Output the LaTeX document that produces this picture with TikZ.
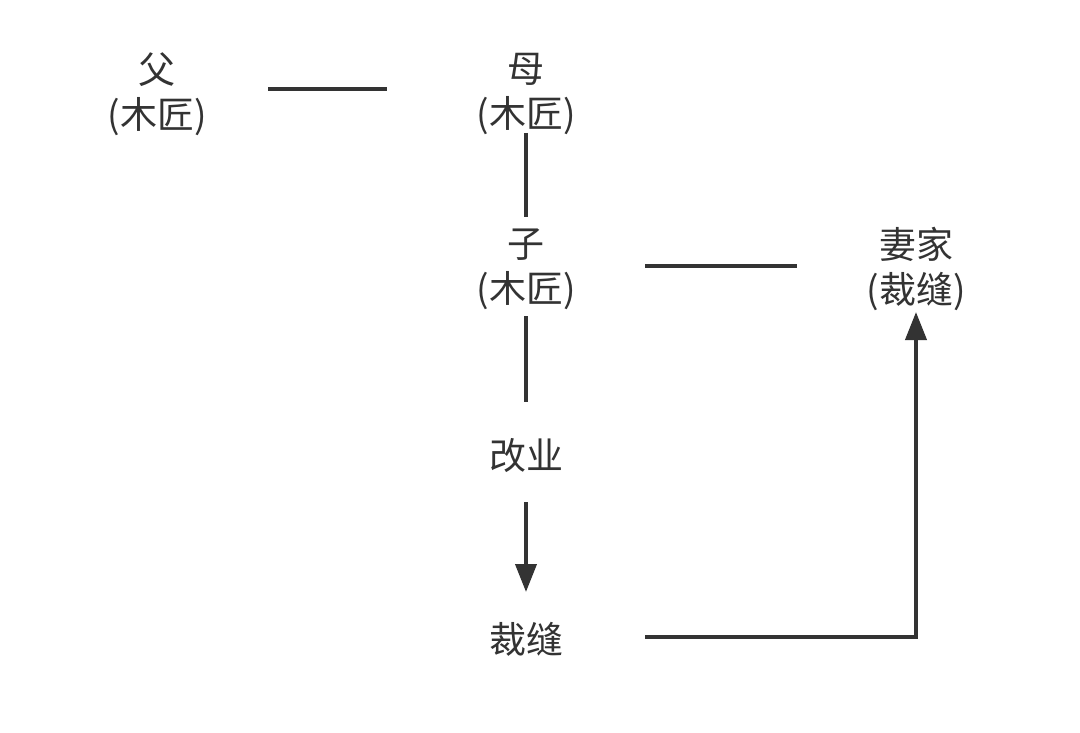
\documentclass[tikz,border=0pt]{standalone}
\usepackage{fontspec}
\newfontfamily\cjk{Noto Sans CJK SC}
\usetikzlibrary{arrows.meta,calc}
\definecolor{ink}{HTML}{333333}
\begin{document}
\begin{tikzpicture}[x=1pt,y=-1pt,
  lbl/.style={text=ink,align=center,inner sep=0pt,font=\cjk\fontsize{37}{45}\selectfont},
  conn/.style={draw=ink,line width=4pt},
  arr/.style={conn,-{Triangle[width=21pt,length=28pt]}}]
\useasboundingbox[fill=white] (0,0) rectangle (1080,733);
\node[lbl] (fu) at (157,94) {父\\(木匠)};
\node[lbl] (mu) at (526,94) {母\\(木匠)};
\node[lbl] (zi) at (526,269) {子\\(木匠)};
\node[lbl] (qi) at (916,269) {妻家\\(裁缝)};
\node[lbl] (gai) at (526,456) {改业};
\node[lbl] (cai) at (526,639) {裁缝};
\draw[conn] ($(fu.center)+(111,-5)$) -- ($(mu.center)+(-139,-5)$);
\draw[conn] ($(mu.center)+(0,39)$) -- ($(zi.center)+(0,-52)$);
\draw[conn] ($(zi.center)+(119,-3)$) -- ($(qi.center)+(-119,-3)$);
\draw[conn] ($(zi.center)+(0,47)$) -- ($(gai.center)+(0,-54)$);
\draw[arr] ($(gai.center)+(0,46)$) -- ($(cai.center)+(0,-47)$);
\draw[arr] ($(cai.center)+(119,-2)$) -| ($(qi.center)+(0,43)$);
\end{tikzpicture}
\end{document}
